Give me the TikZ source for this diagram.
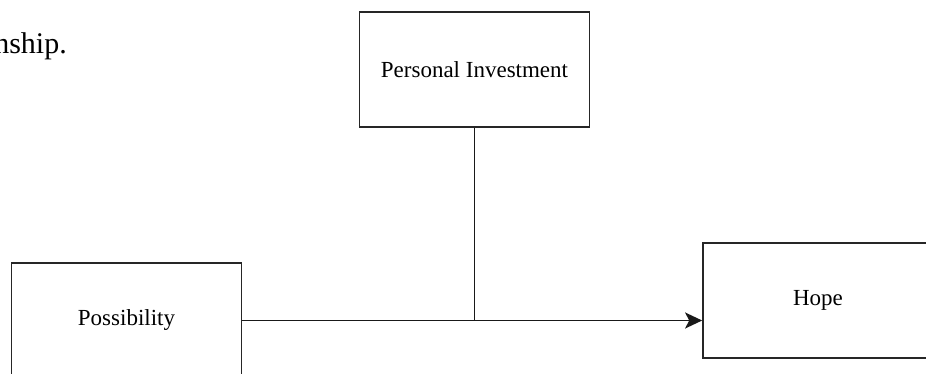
\documentclass[tikz,border=0pt]{standalone}
\usepackage{fontspec}
\setmainfont{Liberation Serif}
\usetikzlibrary{arrows.meta}
\begin{document}
\begin{tikzpicture}[x=1pt,y=-1pt,
  box/.style={draw=black!85, line width=1.7pt, minimum width=230pt, minimum height=115pt,
    inner sep=0pt, font=\fontsize{23}{27}\selectfont},
  link/.style={draw=black!90, line width=1.6pt},
  tip/.style={-{Stealth[length=17pt,width=16pt,inset=4pt]}}]
  \useasboundingbox (0,0) rectangle (926,374);
  % trailing words of the caption above the figure
  \node[anchor=base east, inner sep=0pt, font=\fontsize{30}{34}\selectfont] (cap) at (67,54) {nship.};
  % the three constructs
  \node[box] (inv) at (474.5,69.5) {Personal Investment};
  \node[box] (pos) at (126.5,320.5) {Possibility};
  \node[box] (hope) at (818,300.5) {Hope};
  % moderation point on the main path
  \coordinate (mid) at (inv.south |- pos.east);
  \draw[link, tip] (pos.east) -- (pos.east -| hope.west);
  \draw[link] (inv.south) -- (mid);
\end{tikzpicture}
\end{document}
